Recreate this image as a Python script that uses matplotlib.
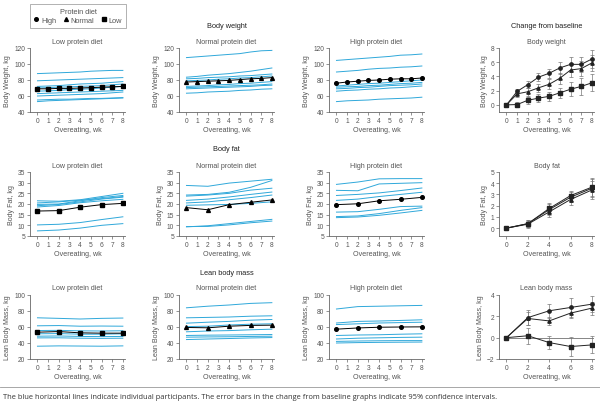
import matplotlib
matplotlib.use("Agg")
import matplotlib.pyplot as plt
from matplotlib.lines import Line2D

plt.rcParams['font.family'] = ['Liberation Sans', 'DejaVu Sans']

BLUE = '#2fa8da'
GRAY = '#555555'

weeks = [0, 1, 2, 3, 4, 5, 6, 7, 8]
weeks_even = [0, 2, 4, 6, 8]

# --- body weight, individual participants + group means
bw_low_indiv = [
    [88, 88.5, 89, 89.5, 90, 91, 91.5, 92, 92],
    [79, 79.5, 80, 80.5, 81, 81.5, 82, 82.5, 83],
    [72, 72.5, 73, 74, 75, 75.5, 76, 77, 78],
    [70, 70.5, 71, 71.5, 72, 72.5, 73, 74, 75],
    [66, 66.5, 67, 68, 68.5, 69, 70, 71, 72],
    [63, 63.5, 64, 64.5, 65, 65.5, 66, 66.5, 67],
    [60, 60.5, 61, 61.5, 62, 62.5, 63, 64, 65],
    [55, 55.5, 56, 56, 56.5, 57, 57, 57.5, 58],
    [53, 54, 54.5, 55, 55.5, 56, 56.5, 57, 57.5],
]
bw_low_mean = [69, 69, 69.5, 69.5, 70, 70.5, 71, 71.5, 72]

bw_norm_indiv = [
    [108, 109, 110, 111, 112, 113, 115, 116.5, 117],
    [83.5, 84.5, 86, 87, 88, 89.5, 91, 93, 95],
    [81.5, 82, 83, 83.5, 84, 85, 85.5, 86.5, 87.5],
    [79, 79.5, 80, 81, 81.5, 82.5, 83, 84, 85],
    [72, 72.5, 73, 74, 74.5, 75.5, 76, 77, 78],
    [70.5, 71, 71.5, 72, 72.5, 73, 73.5, 74, 75],
    [69, 69.5, 70, 70.5, 71, 71.5, 72, 73, 73.5],
    [63.5, 64, 65, 65.5, 66, 67, 67.5, 68.5, 69],
]
bw_norm_mean = [77.5, 78, 78.5, 79, 79.5, 80.5, 81.5, 82, 83]

bw_high_indiv = [
    [104.5, 105.5, 106.5, 107.5, 108.5, 109.5, 111, 111.5, 112.5],
    [90, 91, 92, 93.5, 94.5, 95, 96, 96.5, 97.5],
    [72.5, 73.5, 74.5, 75.5, 76, 77, 78, 79, 80],
    [71, 71.5, 72, 73, 73.5, 74.5, 75.5, 76, 77],
    [69, 69.5, 70.5, 71, 72, 73, 73.5, 74, 75],
    [66, 67, 67.5, 68.5, 69, 70, 70.5, 71.5, 72.5],
    [53, 54, 54.5, 55, 56, 56.5, 57, 57.5, 58.5],
]
bw_high_mean = [76, 77.5, 78.5, 79.5, 80, 81, 81.5, 81.5, 82.5]

bw_chg_high = [0, 1.9, 2.85, 3.9, 4.45, 5.2, 5.7, 5.7, 6.45]
bw_chg_norm = [0, 1.55, 1.85, 2.4, 2.9, 3.75, 4.9, 5.1, 5.9]
bw_chg_low = [0, 0.05, 0.65, 0.95, 1.2, 1.7, 2.2, 2.6, 3.1]
bw_ci_high = [0, 0.4, 0.45, 0.6, 0.65, 0.8, 1.1, 1.1, 1.2]
bw_ci_norm = [0, 0.5, 0.55, 0.6, 0.7, 0.8, 1.0, 1.1, 1.1]
bw_ci_low = [0, 0.35, 0.5, 0.55, 0.6, 0.7, 1.0, 1.2, 1.2]

# --- body fat
bf_low_indiv = [
    [21.5, 21.3, 22, 23.5, 25],
    [19.8, 20, 21.5, 23, 24],
    [19.2, 19.8, 21, 22.3, 23.2],
    [18.6, 19.3, 20.6, 21.5, 22.2],
    [20.5, 21, 21.8, 22.5, 23.5],
    [10.2, 10.5, 11.3, 12.7, 14],
    [7.4, 7.8, 8.7, 10, 10.8],
]
bf_low_mean = [16.7, 16.9, 18.5, 19.7, 20.3]

bf_norm_indiv = [
    [28.7, 28.3, 29.8, 30.7, 31.6],
    [24.2, 24.5, 25.5, 27.8, 31],
    [23.7, 24.2, 25, 26.5, 27.4],
    [21.7, 22.3, 23.3, 24.5, 25.6],
    [20.5, 21, 22, 23, 24.2],
    [19.4, 19.6, 19.8, 20.3, 21],
    [9.3, 9.8, 10.8, 11.8, 12.8],
    [9.4, 9.5, 10.2, 11.2, 12],
]
bf_norm_mean = [18.3, 17.3, 19.7, 20.8, 21.9]

bf_high_indiv = [
    [29.2, 30.3, 31.8, 31.9, 31.9],
    [26.4, 26.2, 29.4, 29.7, 30],
    [24, 24.5, 25.2, 26.3, 27.5],
    [21.7, 22.3, 23.5, 24.5, 25.5],
    [16.2, 16.4, 17.5, 18.8, 19],
    [14.1, 14.4, 15.5, 17, 18.3],
    [13.6, 13.9, 14.7, 15.8, 17],
]
bf_high_mean = [19.7, 20.1, 21.5, 22.2, 23.1]

bf_chg_high = [0, 0.4, 1.65, 2.75, 3.55]
bf_chg_norm = [0, 0.35, 1.45, 2.55, 3.4]
bf_chg_low = [0, 0.4, 1.75, 2.9, 3.65]
bf_ci_high = [0, 0.3, 0.5, 0.45, 0.8]
bf_ci_norm = [0, 0.3, 0.45, 0.45, 0.8]
bf_ci_low = [0, 0.3, 0.5, 0.45, 0.8]

# --- lean body mass
lbm_low_indiv = [
    [71.5, 70.8, 70, 70.8, 71.2],
    [61.5, 61.8, 61, 61.2, 61],
    [55.6, 55.8, 55.2, 55, 55.3],
    [51.5, 51.8, 51, 51, 51.5],
    [48.5, 48.8, 48.2, 48, 48.2],
    [46.4, 46.5, 46, 45.8, 46],
    [36, 36.4, 36.2, 36, 36.4],
]
lbm_low_mean = [53.5, 54.3, 52.7, 52.3, 52.3]

lbm_norm_indiv = [
    [84, 86, 87.5, 89.5, 90.4],
    [71.5, 72, 72.5, 73.5, 74],
    [64.8, 66, 67, 68.5, 69.4],
    [60.5, 61, 62.5, 63.5, 64],
    [54, 55, 55.5, 56.5, 57.3],
    [49.4, 49.8, 50, 50.3, 50.6],
    [47.3, 47.6, 47.8, 48.2, 48.5],
    [44.3, 45, 45.6, 46.3, 46.8],
]
lbm_norm_mean = [59.4, 59, 61, 62, 62.3]

lbm_high_indiv = [
    [82.5, 85.5, 86, 86.5, 87],
    [65, 67, 67.5, 68.2, 69],
    [63, 64, 65, 65.5, 66],
    [49.4, 50, 50.3, 51, 51.5],
    [45, 46, 46.5, 47, 47.3],
    [42, 42.5, 42.8, 43, 43],
    [40, 40.5, 40.8, 41, 41.2],
]
lbm_high_mean = [57.3, 58.8, 59.7, 60, 60.2]

lbm_chg_high = [0, 1.88, 2.52, 2.83, 3.14]
lbm_chg_norm = [0, 1.8, 1.57, 2.3, 2.77]
lbm_chg_low = [0, 0.18, -0.46, -0.83, -0.68]
lbm_ci_high = [0, 0.7, 0.65, 0.85, 0.75]
lbm_ci_norm = [0, 0.6, 0.4, 0.5, 0.6]
lbm_ci_low = [0, 0.75, 0.6, 0.85, 0.8]


def style(ax, ylim, yticks, xticks, ylabel):
    for s in ['top', 'right']:
        ax.spines[s].set_visible(False)
    for s in ['left', 'bottom']:
        ax.spines[s].set_color('#666666')
        ax.spines[s].set_linewidth(0.6)
    ax.set_xlim(-0.7, 8.2)
    ax.set_ylim(*ylim)
    ax.set_yticks(yticks)
    ax.set_xticks(xticks)
    ax.tick_params(length=2, width=0.5, pad=1.5, labelsize=4.8,
                   colors='#666666', labelcolor=GRAY)
    ax.set_xlabel('Overeating, wk', fontsize=5.1, color=GRAY, labelpad=1.5)
    ax.set_ylabel(ylabel, fontsize=5.1, color=GRAY, labelpad=2)


def indiv_panel(ax, x, indiv, mean, marker, ms):
    for line in indiv:
        ax.plot(x, line, color=BLUE, lw=0.7)
    ax.plot(x, mean, color='k', lw=0.7, marker=marker, ms=ms)


def change_panel(ax, x, series, cis):
    markers = ['o', '^', 's']
    for y, ci, m in zip(series, cis, markers):
        ax.errorbar(x, y, yerr=ci, color='#222222', lw=0.7, marker=m, ms=2.4,
                    ecolor='#777777', elinewidth=0.5, capsize=1.6, capthick=0.5)


fig = plt.figure(figsize=(6.0, 4.06), dpi=100)

lefts = [30, 179, 329, 499]
tops = [49, 173, 296]
W, H = 600.0, 406.0
aw, ah = 95, 64

axes = []
for r in range(3):
    row = []
    for c in range(4):
        ax = fig.add_axes([lefts[c] / W, 1 - (tops[r] + ah) / H, aw / W, ah / H])
        row.append(ax)
    axes.append(row)

sub = ['Low protein diet', 'Normal protein diet', 'High protein diet']

# row 1: body weight
indiv_panel(axes[0][0], weeks, bw_low_indiv, bw_low_mean, 's', 3.0)
indiv_panel(axes[0][1], weeks, bw_norm_indiv, bw_norm_mean, '^', 2.8)
indiv_panel(axes[0][2], weeks, bw_high_indiv, bw_high_mean, 'o', 2.6)
for c in range(3):
    style(axes[0][c], (40, 120), [40, 60, 80, 100, 120], weeks, 'Body Weight, kg')
change_panel(axes[0][3], weeks, [bw_chg_high, bw_chg_norm, bw_chg_low],
             [bw_ci_high, bw_ci_norm, bw_ci_low])
style(axes[0][3], (-1, 8), [0, 2, 4, 6, 8], weeks, 'Body Weight, kg')

# row 2: body fat
indiv_panel(axes[1][0], weeks_even, bf_low_indiv, bf_low_mean, 's', 3.0)
indiv_panel(axes[1][1], weeks_even, bf_norm_indiv, bf_norm_mean, '^', 2.8)
indiv_panel(axes[1][2], weeks_even, bf_high_indiv, bf_high_mean, 'o', 2.6)
for c in range(3):
    style(axes[1][c], (5, 35), [5, 10, 15, 20, 25, 30, 35], weeks, 'Body Fat, kg')
change_panel(axes[1][3], weeks_even, [bf_chg_high, bf_chg_norm, bf_chg_low],
             [bf_ci_high, bf_ci_norm, bf_ci_low])
style(axes[1][3], (-0.7, 5), [0, 1, 2, 3, 4, 5], weeks_even, 'Body Fat, kg')

# row 3: lean body mass
indiv_panel(axes[2][0], weeks_even, lbm_low_indiv, lbm_low_mean, 's', 3.0)
indiv_panel(axes[2][1], weeks_even, lbm_norm_indiv, lbm_norm_mean, '^', 2.8)
indiv_panel(axes[2][2], weeks_even, lbm_high_indiv, lbm_high_mean, 'o', 2.6)
for c in range(3):
    style(axes[2][c], (20, 100), [20, 40, 60, 80, 100], weeks, 'Lean Body Mass, kg')
axes[2][3].axhline(0, xmin=0.08, color='#555555', lw=0.5)
change_panel(axes[2][3], weeks_even, [lbm_chg_high, lbm_chg_norm, lbm_chg_low],
             [lbm_ci_high, lbm_ci_norm, lbm_ci_low])
style(axes[2][3], (-2, 4), [-2, 0, 2, 4], weeks_even, 'Lean Body Mass, kg')

# titles
def ftext(xpx, ypx, s, **kw):
    fig.text(xpx / W, 1 - ypx / H, s, ha='center', va='center', **kw)

cx = [l + aw / 2 for l in lefts]
for r, (main, ysub) in enumerate([('Body weight', 43), ('Body fat', 167), ('Lean body mass', 288)]):
    for c in range(3):
        ftext(cx[c], ysub, sub[c], fontsize=5.1, color=GRAY)
    ftext(cx[3], ysub, main, fontsize=5.1, color=GRAY)
ftext(cx[1], 27, 'Body weight', fontsize=5.3, color='#222222')
ftext(cx[1], 150, 'Body fat', fontsize=5.3, color='#222222')
ftext(cx[1], 274, 'Lean body mass', fontsize=5.3, color='#222222')
ftext(cx[3], 27, 'Change from baseline', fontsize=5.3, color='#222222')

# legend
handles = [Line2D([], [], color='k', marker='o', ls='none', ms=2.6),
           Line2D([], [], color='k', marker='^', ls='none', ms=2.8),
           Line2D([], [], color='k', marker='s', ls='none', ms=2.8)]
leg = fig.legend(handles, ['High', 'Normal', 'Low'], title='Protein diet', ncol=3,
                 loc='upper left', bbox_to_anchor=(30 / W, 1 - 5 / H),
                 fontsize=5.3, title_fontsize=5.3, frameon=True, fancybox=False,
                 handlelength=0.6, handletextpad=0.35, columnspacing=1.0,
                 borderpad=0.55, labelspacing=0.2, borderaxespad=0)
leg.get_frame().set_edgecolor('#777777')
leg.get_frame().set_linewidth(0.5)
for t in leg.get_texts():
    t.set_color(GRAY)
leg.get_title().set_color(GRAY)

# caption
fig.add_artist(Line2D([0, 1], [1 - 388 / H, 1 - 388 / H], color='#999999', lw=0.6))
fig.text(3 / W, 1 - 398 / H,
         'The blue horizontal lines indicate individual participants. The error bars in the '
         'change from baseline graphs indicate 95% confidence intervals.',
         fontsize=5.4, color='#333333', va='center', ha='left', family=['Open Sans', 'DejaVu Sans'])

fig.savefig('out.png', dpi=100)
